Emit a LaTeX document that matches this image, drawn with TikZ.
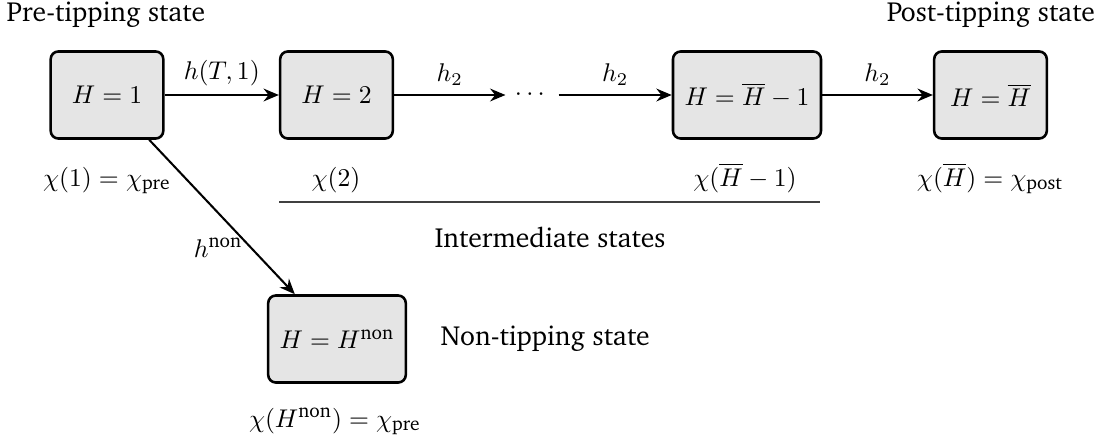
\documentclass[tikz,border=0pt]{standalone}
\usepackage[T1]{fontenc}
\renewcommand{\rmdefault}{bch}
\usepackage{amsmath}
\usepackage{graphicx}
\usetikzlibrary{arrows.meta}
\newcommand{\txs}[1]{\text{\scalebox{1.08}{#1}}}
\tikzset{
  statebox/.style={draw, line width=1pt, fill=gray!20, rounded corners=3pt,
    minimum width=44pt, minimum height=34pt, inner sep=4.5pt},
  trans/.style={-{Stealth[length=6pt,width=5pt,inset=2pt]}, line width=0.8pt},
  chilab/.style={anchor=base},
  ttl/.style={anchor=base, font=\fontsize{10.8}{13}\selectfont},
}
\begin{document}
\begin{tikzpicture}[x=0.3906pt, y=-0.3906pt]
\useasboundingbox (0,0) rectangle (1115,439);
% titles
\node[ttl] (pre) at (106,22) {Pre-tipping state};
\node[ttl] (post) at (991,22) {Post-tipping state};
% states
\node[statebox] (n1) at (107,95) {$H=1$};
\node[statebox] (n2) at (336.5,95) {$H=2$};
\node[inner sep=3.5pt] (dots) at (532,95) {$\cdots$};
\node[statebox] (n3) at (747,95) {$H=\overline{H}-1$};
\node[statebox] (n4) at (990.5,95) {$H=\overline{H}$};
\node[statebox] (n5) at (337,339) {$H=H^{\txs{non}}$};
% transitions
\draw[trans] (n1) -- node[above] {$h(T,1)$} (n2);
\draw[trans] (n2) -- node[above] {$h_2$} (dots);
\draw[trans] (dots) -- node[above] {$h_2$} (n3);
\draw[trans] (n3) -- node[above] {$h_2$} (n4);
\draw[trans] (n1) -- node[pos=0.7, left, inner sep=3pt] {$h^{\txs{non}}$} (n5);
% chi labels
\node[chilab] (c1) at (107,186) {$\chi(1)=\chi_{\txs{pre}}$};
\node[chilab] (c2) at (336,186) {$\chi(2)$};
\node[chilab] (c3) at (745,186) {$\chi(\overline{H}-1)$};
\node[chilab] (c4) at (990,186) {$\chi(\overline{H})=\chi_{\txs{post}}$};
\node[chilab] (c5) at (335,427) {$\chi(H^{\txs{non}})=\chi_{\txs{pre}}$};
% intermediate bracket line
\coordinate (la) at (279,202);
\coordinate (lb) at (820,202);
\draw[line width=0.6pt, black!75] (la) -- (lb);
\node[ttl] (inter) at (550,247) {Intermediate states};
\node[ttl, anchor=base west, inner sep=0pt] (nontip) at (440,345) {Non-tipping state};
\end{tikzpicture}
\end{document}
